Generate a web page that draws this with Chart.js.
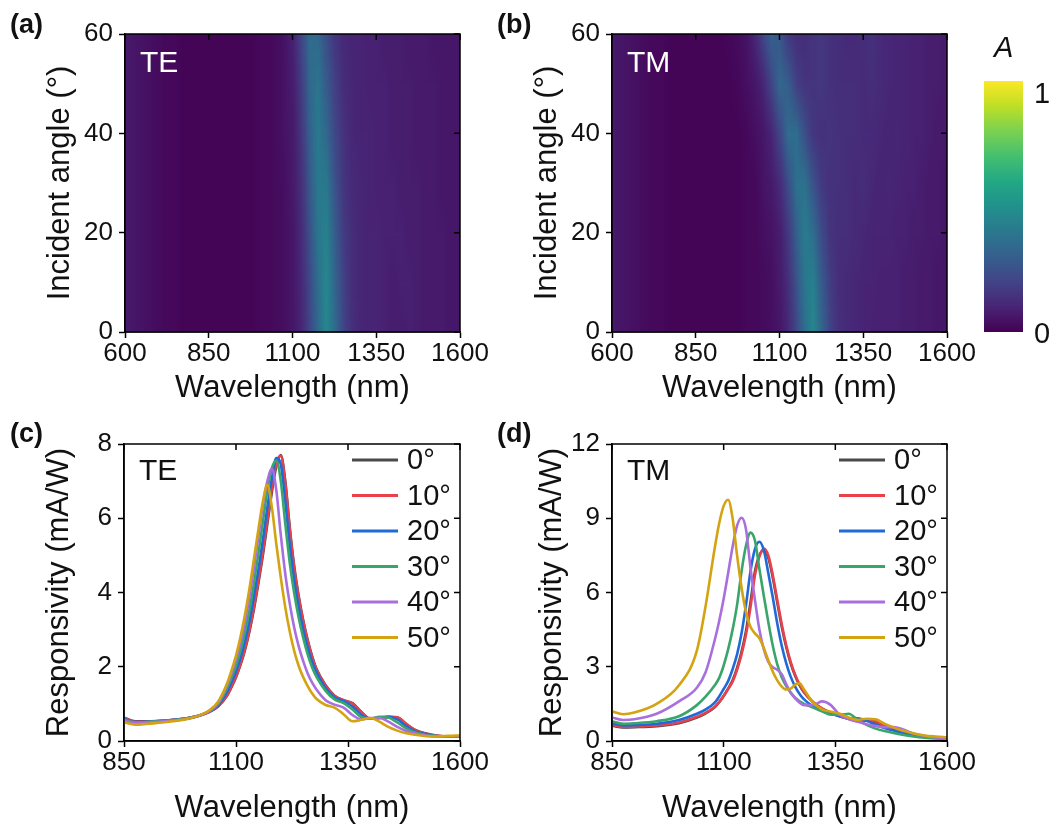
<!DOCTYPE html>
<html lang="en">
<head>
<meta charset="UTF-8">
<title>Angle-resolved absorption and responsivity</title>
<style>
  body { margin: 0; background: #fff; font-family: "Liberation Sans", Arial, sans-serif; color: #111; }
  #fig { position: relative; width: 1057px; height: 829px; overflow: hidden; }
  .panel { position: absolute; }
  .lbl { position: absolute; font-weight: bold; font-size: 27px; line-height: 27px; }
  .cb { position: absolute; font-size: 29px; line-height: 29px; }
</style>
</head>
<body>
<div id="fig">
  <div class="panel" style="left:0;top:0;width:500px;height:410px"><canvas id="mapTE"></canvas></div>
  <div class="panel" style="left:487px;top:0;width:500px;height:410px"><canvas id="mapTM"></canvas></div>
  <div class="panel" style="left:975px;top:0;width:82px;height:410px"><canvas id="cbar"></canvas></div>
  <div class="panel" style="left:0;top:410px;width:500px;height:419px"><canvas id="respTE"></canvas></div>
  <div class="panel" style="left:487px;top:410px;width:500px;height:419px"><canvas id="respTM"></canvas></div>

  <div class="lbl" style="left:10px;top:11px">(a)</div>
  <div class="lbl" style="left:497px;top:11px">(b)</div>
  <div class="lbl" style="left:10px;top:420px">(c)</div>
  <div class="lbl" style="left:497px;top:420px">(d)</div>
  <div class="cb" style="left:994px;top:33px;font-style:italic">A</div>
  <div class="cb" style="left:1034px;top:79px">1</div>
  <div class="cb" style="left:1034px;top:319px">0</div>
</div>
<script src="https://cdn.jsdelivr.net/npm/chart.js"></script>
<script>
// ---- absorption maps (a), (b): rows = incident angle, columns = wavelength ----
const mapWl = [600, 625, 650, 675, 700, 725, 750, 775, 800, 825, 850, 875, 900, 925, 950, 975, 1000, 1025, 1050, 1075,
               1100, 1125, 1150, 1175, 1200, 1225, 1250, 1275, 1300, 1325, 1350, 1375, 1400, 1425, 1450, 1475, 1500, 1525, 1550, 1575, 1600];
const mapAngles = [0, 10, 20, 30, 40, 50, 60];

const teMap = [
  /* 0 */ [0.07,0.06,0.05,0.04,0.03,0.02,0.02,0.01,0.01,0.01, 0.01,0.01,0.01,0.01,0.01,0.01,0.02,0.02,0.03,0.04, 0.06,0.10,0.20,0.34,0.46,0.36,0.21,0.14,0.11,0.10, 0.10,0.09,0.08,0.08,0.09,0.08,0.07,0.07,0.07,0.06, 0.06],
  /* 10 */[0.07,0.06,0.05,0.04,0.03,0.02,0.02,0.01,0.01,0.01, 0.01,0.01,0.01,0.01,0.01,0.01,0.02,0.02,0.03,0.04, 0.06,0.11,0.21,0.36,0.46,0.33,0.20,0.13,0.11,0.10, 0.10,0.09,0.08,0.09,0.09,0.08,0.07,0.07,0.07,0.06, 0.06],
  /* 20 */[0.07,0.06,0.05,0.04,0.03,0.02,0.02,0.01,0.01,0.01, 0.01,0.01,0.01,0.01,0.01,0.01,0.02,0.02,0.03,0.04, 0.06,0.12,0.24,0.39,0.44,0.30,0.18,0.13,0.11,0.10, 0.10,0.09,0.09,0.09,0.08,0.08,0.07,0.07,0.07,0.06, 0.06],
  /* 30 */[0.07,0.06,0.05,0.04,0.03,0.02,0.02,0.01,0.01,0.01, 0.01,0.01,0.01,0.01,0.01,0.01,0.02,0.02,0.03,0.04, 0.07,0.13,0.27,0.41,0.40,0.26,0.16,0.12,0.11,0.10, 0.09,0.09,0.09,0.08,0.08,0.08,0.07,0.07,0.06,0.06, 0.06],
  /* 40 */[0.07,0.06,0.05,0.04,0.03,0.02,0.02,0.01,0.01,0.01, 0.01,0.01,0.01,0.01,0.01,0.01,0.02,0.02,0.03,0.05, 0.07,0.15,0.30,0.41,0.34,0.22,0.15,0.11,0.10,0.10, 0.09,0.09,0.08,0.08,0.08,0.07,0.07,0.07,0.06,0.06, 0.06],
  /* 50 */[0.07,0.06,0.05,0.04,0.03,0.02,0.02,0.01,0.01,0.01, 0.01,0.01,0.01,0.01,0.01,0.01,0.02,0.02,0.03,0.05, 0.08,0.17,0.33,0.39,0.29,0.19,0.13,0.11,0.10,0.09, 0.09,0.09,0.08,0.08,0.08,0.07,0.07,0.07,0.06,0.06, 0.06],
  /* 60 */[0.07,0.06,0.05,0.04,0.03,0.02,0.02,0.01,0.01,0.01, 0.01,0.01,0.01,0.01,0.01,0.01,0.02,0.02,0.03,0.05, 0.09,0.20,0.35,0.34,0.24,0.16,0.12,0.10,0.10,0.09, 0.09,0.08,0.08,0.08,0.07,0.07,0.07,0.06,0.06,0.06, 0.06]
];

const tmMap = [
  /* 0 */ [0.07,0.06,0.05,0.04,0.03,0.02,0.02,0.01,0.01,0.01, 0.01,0.01,0.01,0.01,0.01,0.01,0.02,0.02,0.03,0.04, 0.06,0.11,0.21,0.36,0.46,0.33,0.20,0.14,0.12,0.11, 0.10,0.09,0.09,0.09,0.09,0.08,0.08,0.07,0.07,0.06, 0.06],
  /* 10 */[0.07,0.06,0.05,0.04,0.03,0.02,0.02,0.01,0.01,0.01, 0.01,0.01,0.01,0.01,0.01,0.01,0.02,0.02,0.03,0.04, 0.07,0.13,0.25,0.40,0.43,0.29,0.18,0.13,0.12,0.11, 0.10,0.10,0.09,0.09,0.09,0.08,0.08,0.07,0.07,0.06, 0.06],
  /* 20 */[0.07,0.06,0.05,0.04,0.03,0.02,0.02,0.01,0.01,0.01, 0.01,0.01,0.01,0.01,0.01,0.01,0.02,0.02,0.04,0.05, 0.08,0.16,0.30,0.42,0.36,0.23,0.15,0.13,0.13,0.12, 0.11,0.10,0.10,0.10,0.09,0.09,0.08,0.08,0.07,0.07, 0.06],
  /* 30 */[0.07,0.06,0.05,0.04,0.03,0.02,0.02,0.01,0.01,0.01, 0.01,0.01,0.01,0.01,0.01,0.01,0.02,0.02,0.05,0.07, 0.12,0.23,0.37,0.38,0.25,0.17,0.14,0.14,0.13,0.12, 0.13,0.11,0.10,0.11,0.10,0.09,0.09,0.08,0.07,0.07, 0.06],
  /* 40 */[0.07,0.06,0.05,0.04,0.03,0.02,0.02,0.01,0.01,0.01, 0.01,0.01,0.01,0.01,0.01,0.01,0.02,0.04,0.06,0.10, 0.20,0.35,0.36,0.24,0.16,0.14,0.15,0.14,0.13,0.13, 0.12,0.12,0.11,0.10,0.11,0.10,0.09,0.09,0.08,0.07, 0.07],
  /* 50 */[0.07,0.06,0.05,0.04,0.03,0.02,0.02,0.01,0.01,0.01, 0.01,0.01,0.01,0.01,0.01,0.02,0.04,0.06,0.10,0.20, 0.33,0.30,0.19,0.15,0.15,0.16,0.14,0.13,0.13,0.13, 0.12,0.13,0.12,0.11,0.10,0.10,0.09,0.09,0.08,0.08, 0.07],
  /* 60 */[0.07,0.06,0.05,0.04,0.03,0.02,0.02,0.01,0.01,0.01, 0.01,0.01,0.01,0.01,0.02,0.03,0.05,0.10,0.20,0.31, 0.27,0.17,0.13,0.13,0.15,0.16,0.14,0.13,0.12,0.12, 0.13,0.14,0.12,0.11,0.10,0.10,0.09,0.09,0.08,0.08, 0.07]
];

// ---- responsivity spectra (c), (d) ----
const wl = [850, 875, 900, 950, 1000, 1040, 1060, 1080, 1090, 1100, 1110, 1120, 1130, 1140, 1150, 1160, 1170, 1180, 1190, 1200,
            1210, 1220, 1230, 1240, 1250, 1260, 1270, 1280, 1300, 1320, 1340, 1360, 1380, 1400, 1420, 1440, 1460, 1480, 1500, 1525,
            1550, 1575, 1600];
const angleLabels = ['0°', '10°', '20°', '30°', '40°', '50°'];

const te0  = [0.63,0.53,0.53,0.56,0.63,0.78,0.93,1.22,1.45,1.72,2.05,2.45,2.95,3.55,4.25,5.00,5.85,6.70,7.40,7.70, 7.00,5.75,4.70,3.90,3.25,2.72,2.28,1.93,1.50,1.22,1.10,1.02,0.78,0.60,0.62,0.65,0.64,0.45,0.30,0.20, 0.14,0.12,0.12];
const te10 = [0.62,0.52,0.52,0.56,0.63,0.78,0.94,1.23,1.47,1.74,2.08,2.48,2.99,3.60,4.32,5.08,5.95,6.80,7.48,7.68, 6.95,5.70,4.65,3.86,3.22,2.70,2.26,1.92,1.49,1.21,1.10,1.01,0.77,0.60,0.62,0.65,0.64,0.46,0.29,0.19, 0.14,0.12,0.12];
const te20 = [0.60,0.51,0.52,0.56,0.63,0.79,0.96,1.32,1.58,1.88,2.24,2.68,3.23,3.90,4.62,5.42,6.30,7.07,7.62,7.45, 6.45,5.28,4.33,3.60,3.00,2.52,2.12,1.84,1.42,1.17,1.08,0.93,0.70,0.60,0.64,0.65,0.58,0.40,0.26,0.18, 0.13,0.12,0.12];
const te30 = [0.58,0.50,0.51,0.55,0.63,0.80,0.99,1.42,1.70,2.03,2.43,2.93,3.52,4.25,5.05,5.90,6.75,7.35,7.55,7.00, 5.85,4.80,3.98,3.32,2.78,2.33,1.98,1.72,1.35,1.12,1.02,0.85,0.64,0.60,0.65,0.63,0.50,0.34,0.23,0.16, 0.13,0.12,0.12];
const te40 = [0.55,0.49,0.50,0.54,0.62,0.80,1.02,1.50,1.82,2.20,2.65,3.20,3.88,4.65,5.50,6.35,7.00,7.33,6.75,5.55, 4.50,3.70,3.05,2.55,2.15,1.82,1.57,1.38,1.10,0.98,0.90,0.70,0.58,0.62,0.62,0.52,0.38,0.27,0.20,0.15, 0.12,0.12,0.13];
const te50 = [0.50,0.44,0.46,0.52,0.62,0.82,1.06,1.55,1.90,2.30,2.80,3.40,4.10,4.90,5.70,6.45,6.90,6.30,5.30,4.40, 3.60,2.95,2.42,2.02,1.72,1.48,1.28,1.13,0.97,0.90,0.72,0.53,0.57,0.62,0.52,0.38,0.28,0.21,0.17,0.13, 0.12,0.14,0.15];

const tm0  = [0.62,0.55,0.56,0.60,0.72,0.95,1.12,1.36,1.57,1.82,2.12,2.45,2.95,3.60,4.45,5.60,6.85,7.50,7.72,7.40, 6.60,5.60,4.62,3.80,3.14,2.64,2.25,1.96,1.57,1.31,1.14,1.00,0.90,0.82,0.82,0.76,0.60,0.46,0.36,0.26, 0.18,0.13,0.10];
const tm10 = [0.65,0.57,0.58,0.63,0.75,0.98,1.15,1.38,1.58,1.82,2.10,2.40,2.88,3.50,4.30,5.40,6.70,7.45,7.78,7.50, 6.70,5.70,4.72,3.88,3.20,2.68,2.28,1.98,1.58,1.32,1.15,1.00,0.90,0.82,0.84,0.80,0.62,0.46,0.36,0.26, 0.18,0.13,0.10];
const tm20 = [0.72,0.63,0.64,0.70,0.85,1.10,1.28,1.55,1.80,2.10,2.42,2.90,3.50,4.35,5.50,6.85,7.75,8.05,7.70,6.78, 5.80,4.75,3.85,3.15,2.60,2.20,1.90,1.68,1.40,1.22,1.10,1.00,0.92,0.92,0.82,0.66,0.52,0.42,0.32,0.23, 0.16,0.12,0.10];
const tm30 = [0.80,0.70,0.72,0.80,1.00,1.45,1.80,2.25,2.55,3.05,3.70,4.50,5.50,6.85,7.90,8.42,8.10,6.95,5.85,4.80, 3.85,3.10,2.58,2.22,1.96,1.75,1.60,1.50,1.35,1.20,1.06,1.06,1.10,0.85,0.65,0.50,0.40,0.32,0.25,0.18, 0.13,0.10,0.09];
const tm40 = [0.95,0.85,0.88,1.10,1.60,2.15,2.80,4.08,4.85,5.75,6.78,7.85,8.70,9.02,8.55,7.00,5.70,4.50,3.70,3.20, 2.98,2.88,2.70,2.30,1.95,1.72,1.55,1.45,1.45,1.60,1.45,1.05,0.88,0.78,0.68,0.60,0.56,0.56,0.48,0.30, 0.20,0.14,0.10];
const tm50 = [1.20,1.08,1.15,1.50,2.25,3.65,5.50,7.80,8.80,9.50,9.75,9.00,7.50,6.20,5.20,4.62,4.35,4.15,3.75,3.25, 2.80,2.45,2.20,2.08,2.12,2.28,2.33,2.08,1.55,1.28,1.18,1.10,0.95,0.85,0.90,0.88,0.70,0.55,0.42,0.30, 0.22,0.18,0.15];

// tick values
const mapXTicks = [600, 850, 1100, 1350, 1600];
const angleTicks = [0, 20, 40, 60];
const respXTicks = [850, 1100, 1350, 1600];
const teYTicks = [0, 2, 4, 6, 8];
const tmYTicks = [0, 3, 6, 9, 12];

const lineColors = ['#4a4a4a', '#e8414b', '#2069d8', '#3aa56b', '#a96fdd', '#d4a312'];
const viridis = ['#440154', '#482475', '#414487', '#355f8d', '#2a788e', '#21918c', '#22a884', '#44bf70', '#7ad151', '#bddf26', '#fde725'];

Chart.defaults.font.family = '"Liberation Sans", Arial, Helvetica, sans-serif';
Chart.defaults.color = '#111';

function hexRgb(h) { return [1, 3, 5].map(i => parseInt(h.substr(i, 2), 16)); }
function viridisAt(v) {
  v = Math.max(0, Math.min(1, v));
  const p = v * (viridis.length - 1);
  const i = Math.min(Math.floor(p), viridis.length - 2);
  const t = p - i;
  const a = hexRgb(viridis[i]), b = hexRgb(viridis[i + 1]);
  return a.map((c, k) => Math.round(c + (b[k] - c) * t));
}

const mapsByPol = { TE: teMap, TM: tmMap };

// paints the absorption grid into the plot area, cells placed by the scales
const heatPlugin = {
  id: 'heat',
  beforeDatasetsDraw(chart, args, opts) {
    const rows = mapsByPol[opts.pol];
    if (!rows) return;
    const { ctx, chartArea: a, scales: { x, y } } = chart;
    const nx = mapWl.length, ny = mapAngles.length;
    const off = document.createElement('canvas');
    off.width = nx; off.height = ny;
    const octx = off.getContext('2d');
    const img = octx.createImageData(nx, ny);
    for (let j = 0; j < ny; j++) {
      const row = rows[ny - 1 - j];
      for (let i = 0; i < nx; i++) {
        const c = viridisAt(row[i]);
        const k = (j * nx + i) * 4;
        img.data[k] = c[0]; img.data[k + 1] = c[1]; img.data[k + 2] = c[2]; img.data[k + 3] = 255;
      }
    }
    octx.putImageData(img, 0, 0);
    const dw = mapWl[1] - mapWl[0], da = mapAngles[1] - mapAngles[0];
    const x0 = x.getPixelForValue(mapWl[0] - dw / 2), x1 = x.getPixelForValue(mapWl[nx - 1] + dw / 2);
    const y0 = y.getPixelForValue(mapAngles[ny - 1] + da / 2), y1 = y.getPixelForValue(mapAngles[0] - da / 2);
    ctx.save();
    ctx.beginPath(); ctx.rect(a.left, a.top, a.width, a.height); ctx.clip();
    ctx.imageSmoothingEnabled = true;
    ctx.imageSmoothingQuality = 'low';
    ctx.drawImage(off, x0, y0, x1 - x0, y1 - y0);
    ctx.restore();
  }
};

// closed box with inward ticks on top and right, TE/TM tag and line key
const framePlugin = {
  id: 'frame',
  afterDatasetsDraw(chart, args, opts) {
    const { ctx, chartArea: a, scales: { x, y } } = chart;
    ctx.save();
    ctx.strokeStyle = '#000';
    ctx.lineWidth = 1.5;
    ctx.strokeRect(a.left, a.top, a.width, a.height);
    ctx.beginPath();
    x.ticks.forEach(t => { const p = x.getPixelForValue(t.value); ctx.moveTo(p, a.top); ctx.lineTo(p, a.top + 6); });
    y.ticks.forEach(t => { const p = y.getPixelForValue(t.value); ctx.moveTo(a.right, p); ctx.lineTo(a.right - 6, p); });
    ctx.stroke();

    ctx.font = '30px "Liberation Sans", Arial, sans-serif';
    ctx.textBaseline = 'middle';
    ctx.fillStyle = opts.tagColor;
    ctx.fillText(opts.tag, a.left + 15, a.top + opts.tagDy);

    if (opts.key) {
      ctx.font = '29px "Liberation Sans", Arial, sans-serif';
      chart.data.datasets.forEach((ds, k) => {
        const yy = a.top + 16 + k * 35.5;
        ctx.strokeStyle = ds.borderColor;
        ctx.lineWidth = 3;
        ctx.beginPath(); ctx.moveTo(a.right - 108, yy); ctx.lineTo(a.right - 62, yy); ctx.stroke();
        ctx.fillStyle = '#111';
        ctx.fillText(ds.label, a.right - 53, yy + 1);
      });
    }
    ctx.restore();
  }
};

function axis(ticks, extra) {
  return Object.assign({
    type: 'linear',
    min: ticks[0],
    max: ticks[ticks.length - 1],
    afterBuildTicks: s => { s.ticks = ticks.map(v => ({ value: v })); },
    grid: { display: true, drawOnChartArea: false, drawTicks: true, tickLength: 6, tickWidth: 1.5, tickColor: '#000' },
    border: { display: true, color: '#000', width: 1.5 }
  }, extra);
}

function scalesFor(o) {
  return {
    x: axis(o.xTicks, {
      afterFit: s => { s.height = o.xH; s.paddingLeft = 0; s.paddingRight = 0; },
      ticks: { font: { size: 26, lineHeight: 1 }, padding: 3, maxRotation: 0, autoSkip: false, color: '#111', callback: v => String(v) },
      title: { display: true, text: 'Wavelength (nm)', color: '#111', font: { size: 31, lineHeight: 1 }, padding: { top: 0, bottom: o.xTitlePad } }
    }),
    y: axis(o.yTicks, {
      afterFit: s => { s.width = o.yW; s.paddingTop = 0; s.paddingBottom = 0; },
      ticks: { font: { size: 26, lineHeight: 1 }, padding: 6, autoSkip: false, color: '#111', callback: v => String(v) },
      title: { display: true, text: o.yTitle, color: '#111', font: { size: 31, lineHeight: 1 }, padding: { top: o.yTitlePad, bottom: 0 } }
    })
  };
}

function mapChart(id, pol) {
  return new Chart(document.getElementById(id), {
    type: 'scatter',
    data: { datasets: [{ data: [] }] },
    plugins: [heatPlugin, framePlugin],
    options: {
      responsive: true, maintainAspectRatio: false, animation: false, events: [],
      layout: { autoPadding: false, padding: { top: 34, right: 40, left: 0, bottom: 0 } },
      plugins: {
        legend: { display: false }, tooltip: { enabled: false },
        heat: { pol: pol },
        frame: { tag: pol, tagColor: '#fff', tagDy: 30, key: false }
      },
      scales: scalesFor({ xTicks: mapXTicks, yTicks: angleTicks, xH: 78, yW: 125, xTitlePad: 6, yTitlePad: 45, yTitle: 'Incident angle (°)' })
    }
  });
}

function respChart(id, pol, series, yTicks, yW, yTitlePad) {
  return new Chart(document.getElementById(id), {
    type: 'line',
    data: {
      datasets: series.map((vals, k) => ({
        label: angleLabels[k],
        data: wl.map((w, i) => ({ x: w, y: vals[i] })),
        borderColor: lineColors[k],
        borderWidth: 2.6,
        pointRadius: 0,
        fill: false,
        cubicInterpolationMode: 'monotone',
        order: series.length - k
      }))
    },
    plugins: [framePlugin],
    options: {
      responsive: true, maintainAspectRatio: false, animation: false, events: [],
      layout: { autoPadding: false, padding: { top: 34, right: 40, left: 0, bottom: 0 } },
      plugins: {
        legend: { display: false }, tooltip: { enabled: false },
        frame: { tag: pol, tagColor: '#111', tagDy: 28, key: true }
      },
      scales: scalesFor({ xTicks: respXTicks, yTicks: yTicks, xH: 88, yW: yW, xTitlePad: 5, yTitlePad: yTitlePad, yTitle: 'Responsivity (mA/W)' })
    }
  });
}

mapChart('mapTE', 'TE');
mapChart('mapTM', 'TM');
respChart('respTE', 'TE', [te0, te10, te20, te30, te40, te50], teYTicks, 124, 44);
respChart('respTM', 'TM', [tm0, tm10, tm20, tm30, tm40, tm50], tmYTicks, 125, 50);

// colour bar for A
new Chart(document.getElementById('cbar'), {
  type: 'bar',
  data: {
    labels: ['A'],
    datasets: [{
      data: [[0, 1]],
      borderWidth: 0,
      barPercentage: 1,
      categoryPercentage: 1,
      backgroundColor: c => {
        const a = c.chart.chartArea;
        if (!a) return viridis[0];
        const g = c.chart.ctx.createLinearGradient(0, a.bottom, 0, a.top);
        viridis.forEach((col, i) => g.addColorStop(i / (viridis.length - 1), col));
        return g;
      }
    }]
  },
  options: {
    responsive: true, maintainAspectRatio: false, animation: false, events: [],
    layout: { autoPadding: false, padding: { top: 81, bottom: 78, left: 9, right: 34 } },
    plugins: { legend: { display: false }, tooltip: { enabled: false } },
    scales: { x: { display: false }, y: { display: false, min: 0, max: 1 } }
  }
});
</script>
</body>
</html>
